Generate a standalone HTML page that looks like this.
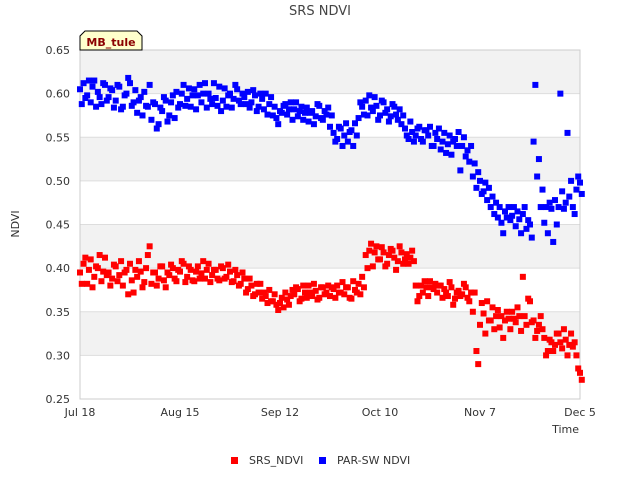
<!DOCTYPE html>
<html><head><meta charset="utf-8"><style>
body{margin:0;background:#fff;font-family:"Liberation Sans","DejaVu Sans",sans-serif}
svg text{font-family:"DejaVu Sans","Liberation Sans",sans-serif}
</style></head><body>
<svg id="c" width="640" height="480" xmlns="http://www.w3.org/2000/svg">
<rect width="640" height="480" fill="#fff"/>
<g id="bands"></g>
<g id="grid"></g>
<rect x="80" y="50" width="500" height="349" fill="none" stroke="#ccc"/>
<g id="pts"></g>
<g id="axes"></g>
<text x="320" y="15" text-anchor="middle" font-size="13" fill="#444">SRS NDVI</text>
<text transform="translate(19,224) rotate(-90)" text-anchor="middle" font-size="11" fill="#333">NDVI</text>
<text x="579" y="433" text-anchor="end" font-size="11" fill="#333">Time</text>
<g>
<path d="M80,50 L80,36 L85,31 L137,31 L142,36 L142,50 Z" fill="#ffffcc" stroke="#000"/>
<text x="111" y="46" text-anchor="middle" font-size="11" font-weight="bold" fill="#8b0000">MB_tule</text>
</g>
<g><rect x="231" y="457" width="7" height="7" fill="#f00"/><text x="249" y="464" font-size="11" fill="#333">SRS_NDVI</text></g>
<g><rect x="319" y="457" width="7" height="7" fill="#00f"/><text x="337" y="464" font-size="11" fill="#333">PAR-SW NDVI</text></g>
</svg>
<script>
// NDVI x1000, two readings per day, day 0 = Jul 18
const b1=[605,612,598,590,615,602,588,610,596,604,592,608,585,600,612,590,578,596,602,585,570,588,565,580,592,575,598,602,588,610,594,585,605,598,590,612,600,588,595,608,592,585,600,594,605,588,596,602,590,598,585,594,600,588,575,572,580,586,576,590,582,574,585,578,568,580,574,586,570,576,562,555,548,560,552,545,558,566,572,585,592,598,580,586,575,590,582,574,585,570,565,560,548,556,552,562,545,558,562,540,548,536,555,542,530,548,556,540,528,522,505,492,500,488,478,470,462,458,452,465,470,460,448,456,462,445,450,545,505,470,452,440,468,478,470,488,475,482,470,490,498];
const b2=[588,595,615,608,585,596,612,592,606,584,610,582,598,618,586,604,592,575,586,610,590,560,584,596,568,590,572,584,600,586,606,598,582,610,600,584,594,612,586,580,606,598,584,610,592,600,588,584,604,580,600,582,576,596,585,565,578,588,582,570,590,580,570,584,578,565,588,572,580,584,575,545,562,540,566,556,540,552,590,576,575,584,596,570,592,578,568,588,576,582,575,552,568,545,560,548,558,552,540,555,560,545,532,552,545,540,512,550,535,540,520,510,485,498,492,482,475,470,440,458,455,470,465,440,470,455,435,610,525,490,470,475,430,450,600,468,555,500,462,505,485];
const r1=[395,405,382,410,390,400,385,412,395,388,402,392,380,398,405,372,390,396,384,415,382,395,388,402,378,392,400,385,396,405,390,398,385,402,394,388,405,392,398,386,400,390,396,385,392,382,388,376,380,370,372,365,368,375,362,358,360,355,364,368,370,376,365,372,380,368,374,366,378,372,368,376,380,372,370,378,365,375,382,390,415,420,402,425,410,418,405,422,412,408,418,410,405,420,380,368,372,378,385,376,372,380,376,368,378,365,374,370,378,362,350,305,335,348,362,340,330,352,345,340,342,350,338,345,390,335,362,340,328,345,320,305,315,312,325,308,318,312,310,300,280];
const r2=[382,412,398,378,402,415,396,392,380,404,385,408,395,370,386,398,408,378,400,425,395,380,402,386,395,404,388,398,408,384,402,386,396,388,408,398,384,398,388,402,388,404,384,398,380,395,372,388,368,382,382,372,360,362,370,352,366,372,358,375,378,362,380,366,372,382,364,378,370,380,378,366,372,384,378,366,385,372,370,378,400,428,418,410,424,402,415,420,398,425,405,416,412,408,362,380,385,368,378,382,380,366,372,384,358,372,368,382,366,372,372,290,360,325,340,355,345,332,320,350,330,342,355,328,345,365,338,320,335,330,300,318,305,325,315,330,300,325,315,285,272];
const yTicks=[0.25,0.30,0.35,0.40,0.45,0.50,0.55,0.60,0.65];
const xTickDays=[0,28,56,84,112,140];
const xTickLabels=["Jul 18","Aug 15","Sep 12","Oct 10","Nov 7","Dec 5"];
const X0=80,X1=580,Y0=399,Y1=50,DMAX=140,VMIN=0.25,VMAX=0.65;
const xs=d=>X0+(d/DMAX)*(X1-X0);
const ys=v=>Y0-(v-VMIN)/(VMAX-VMIN)*(Y0-Y1);
const NS="http://www.w3.org/2000/svg";
function mk(t,a,p){const e=document.createElementNS(NS,t);for(const k in a)e.setAttribute(k,a[k]);p.appendChild(e);return e;}
const bands=document.getElementById('bands'),grid=document.getElementById('grid'),axes=document.getElementById('axes'),pts=document.getElementById('pts');
for(let i=0;i<yTicks.length-1;i+=2){
 const b=mk('rect',{x:X0,y:ys(yTicks[i+1+0]===undefined?0:yTicks[i+1]),width:X1-X0,height:0,fill:'#f2f2f2'},bands);
}
bands.innerHTML='';
for(let i=yTicks.length-1;i>0;i-=2){
 const r=mk('rect',{x:X0,y:ys(yTicks[i]),width:X1-X0,height:ys(yTicks[i-1])-ys(yTicks[i]),fill:'#f2f2f2'},bands);
 
 
}
yTicks.forEach(v=>{
 const l=mk('line',{x1:X0,x2:X1,y1:ys(v),y2:ys(v),stroke:'#ddd'},grid);
 
 
 const t=mk('text',{x:X0-10,y:ys(v)+4,'text-anchor':'end','font-size':11,fill:'#333'},axes);
 t.textContent=v.toFixed(2);
 
 
});
xTickDays.forEach((d,i)=>{
 const t=mk('text',{x:xs(d),y:416,'text-anchor':'middle','font-size':11,fill:'#333'},axes);
 t.textContent=xTickLabels[i];
 
 
});
function series(a,off,col,name){
 a.forEach((v,d)=>{
  const r=mk('rect',{x:xs(d+off)-3,y:ys(v/1000)-3,width:6,height:6,fill:col},pts);
  
  
 });
}
series(r1,0,'#f00','srs-point');series(r2,0.5,'#f00','srs-point');
series(b1,0,'#00f','par-point');series(b2,0.5,'#00f','par-point');
</script>
</body></html>
